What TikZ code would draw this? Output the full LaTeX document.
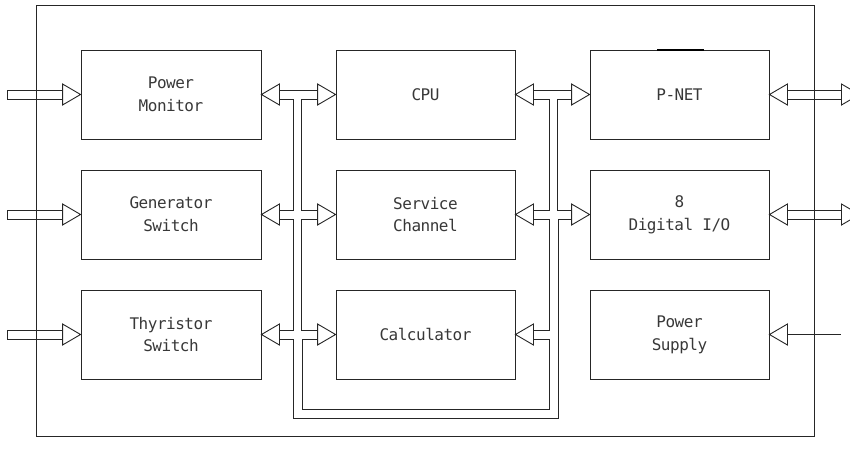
\documentclass[tikz,border=0pt]{standalone}
\usepackage{fontspec}
\setmonofont{DejaVu Sans Mono}[LetterSpace=-3]
\usetikzlibrary{calc}
\newcommand\blklbl{\ttfamily\fontsize{16}{22.7}\selectfont}
\begin{document}
\begin{tikzpicture}[x=1pt,y=-1pt,line width=0.9pt,color=black!85,
  blk/.style={draw,minimum height=89pt,inner sep=0pt,align=center,
    font=\blklbl,text=black!78},
  wblk/.style={blk,minimum width=180pt},
  nblk/.style={blk,minimum width=179pt}]
\useasboundingbox (0,0) rectangle (850,464);
\clip (0,0) rectangle (850,464);
% frame
\node[draw,minimum width=778pt,minimum height=431pt,inner sep=0pt] (frame) at (425,220.5) {};
% blocks
\node[wblk] (PM) at (171,94.5) {Power\\Monitor};
\node[wblk] (GS) at (171,214.5) {Generator\\Switch};
\node[wblk] (TS) at (171,334.5) {Thyristor\\Switch};
\node[nblk] (CPU) at (425.5,94.5) {CPU};
\node[nblk] (SC) at (425.5,214.5) {Service\\Channel};
\node[nblk] (CA) at (425.5,334.5) {Calculator};
\node[nblk] (PN) at (679.5,94.5) {P-NET};
\node[nblk] (DIO) at (679.5,214.5) {8\\Digital I/O};
\node[nblk] (PS) at (679.5,334.5) {Power\\Supply};
\draw[line width=1.6pt,draw=black] (657,50) -- (704,50);
\coordinate (bo) at (558,418);
\coordinate (bi) at (302,409);
% left inputs
\foreach \n in {PM,GS,TS}{
  \draw (\n.west) -- ++(-18,-10.5) -- ++(0,21) -- cycle;
  \draw ($(\n.west)+(-18,-4.5)$) -- ++(-55,0) -- ++(0,9) -- ++(55,0);
}
% heads pointing left (tip on the east side of a block)
\foreach \n in {PM,GS,TS,CPU,SC,CA,PN,DIO,PS}{
  \draw (\n.east) -- ++(18,-10.5) -- ++(0,21) -- cycle;
}
% heads pointing right (tip on the west side of a block)
\foreach \n in {CPU,SC,CA,PN,DIO}{
  \draw (\n.west) -- ++(-18,-10.5) -- ++(0,21) -- cycle;
}
% bus
\draw ($(PM.east)+(18,4.5)$) -- ++(14,0) |- ($(GS.east)+(18,-4.5)$);
\draw ($(GS.east)+(18,4.5)$) -- ++(14,0) |- ($(TS.east)+(18,-4.5)$);
\draw ($(TS.east)+(18,4.5)$) -- ++(14,0) |- (bo) |- ($(DIO.west)+(-18,4.5)$);
\draw ($(DIO.west)+(-18,-4.5)$) -- ++(-14,0) |- ($(PN.west)+(-18,4.5)$);
\draw ($(PN.west)+(-18,-4.5)$) -- ($(CPU.east)+(18,-4.5)$);
\draw ($(CPU.east)+(18,4.5)$) -- ++(16,0) |- ($(SC.east)+(18,-4.5)$);
\draw ($(SC.east)+(18,4.5)$) -- ++(16,0) |- ($(CA.east)+(18,-4.5)$);
\draw ($(CA.east)+(18,4.5)$) -- ++(16,0) |- (bi) |- ($(CA.west)+(-18,4.5)$);
\draw ($(CA.west)+(-18,-4.5)$) -- ++(-16,0) |- ($(SC.west)+(-18,4.5)$);
\draw ($(SC.west)+(-18,-4.5)$) -- ++(-16,0) |- ($(CPU.west)+(-18,4.5)$);
\draw ($(CPU.west)+(-18,-4.5)$) -- ($(PM.east)+(18,-4.5)$);
% right outputs
\foreach \n in {PN,DIO}{
  \draw ($(\n.east)+(18,-4.5)$) -- ++(54,0);
  \draw ($(\n.east)+(18,4.5)$) -- ++(54,0);
  \draw ($(\n.east)+(72,-10.5)$) -- ++(18,10.5) -- ++(-18,10.5) -- cycle;
}
\draw ($(PS.east)+(18,0)$) -- ++(54,0);
\end{tikzpicture}
\end{document}
